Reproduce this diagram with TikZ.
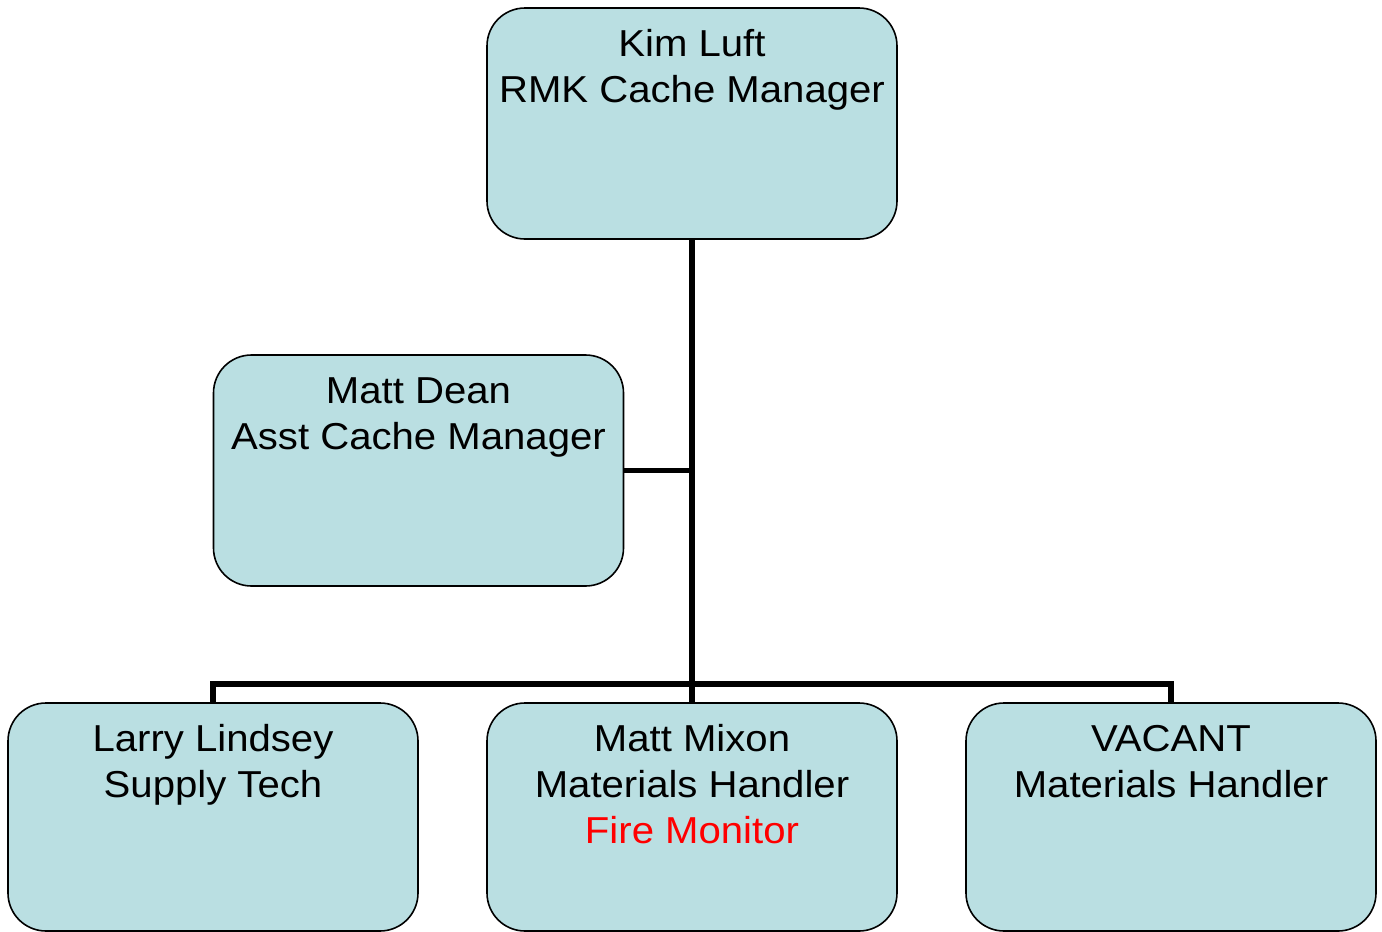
\documentclass[tikz,border=0pt]{standalone}
\usepackage{fontspec}
\setmainfont{Liberation Sans}[FakeStretch=1.07]
\definecolor{boxfill}{RGB}{186,223,226}
\definecolor{firered}{RGB}{255,0,0}
\begin{document}
\begin{tikzpicture}[x=1pt,y=-1pt,
  card/.style={draw=black,line width=1.6pt,fill=boxfill,rounded corners=38pt,inner sep=0pt,minimum width=410pt},
  tallcard/.style={card,minimum height=231pt},
  lowcard/.style={card,minimum height=228pt},
  lbl/.style={font=\fontsize{37.5}{46}\selectfont,align=center,anchor=base,inner sep=0pt},
  wire/.style={line width=5.5pt}]
\useasboundingbox (0,0) rectangle (1382,932);
% boxes
\node[tallcard] (kim) at (692,123.5) {};
\node[tallcard] (dean) at (418.5,470.5) {};
\node[lowcard] (larry) at (213,817) {};
\node[lowcard] (mixon) at (692,817) {};
\node[lowcard] (vacant) at (1171,817) {};
% connectors
\coordinate (bar) at (692,684);
\draw[wire] (kim.south) -- (mixon.north);
\draw[wire] (dean.east) -- (dean.east -| kim.south);
\draw[wire] (larry.north) |- (bar) -| (vacant.north);
% labels (base anchor = baseline of last line)
\node[lbl] (kimT) at ([yshift=-95.5pt]kim.north) {Kim Luft\\RMK Cache Manager};
\node[lbl] (deanT) at ([yshift=-95.5pt]dean.north) {Matt Dean\\Asst Cache Manager};
\node[lbl] (larryT) at ([yshift=-95.5pt]larry.north) {Larry Lindsey\\Supply Tech};
\node[lbl] (mixonT) at ([yshift=-141pt]mixon.north) {Matt Mixon\\Materials Handler\\\textcolor{firered}{Fire Monitor}};
\node[lbl] (vacantT) at ([yshift=-95.5pt]vacant.north) {VACANT\\Materials Handler};
\end{tikzpicture}
\end{document}
